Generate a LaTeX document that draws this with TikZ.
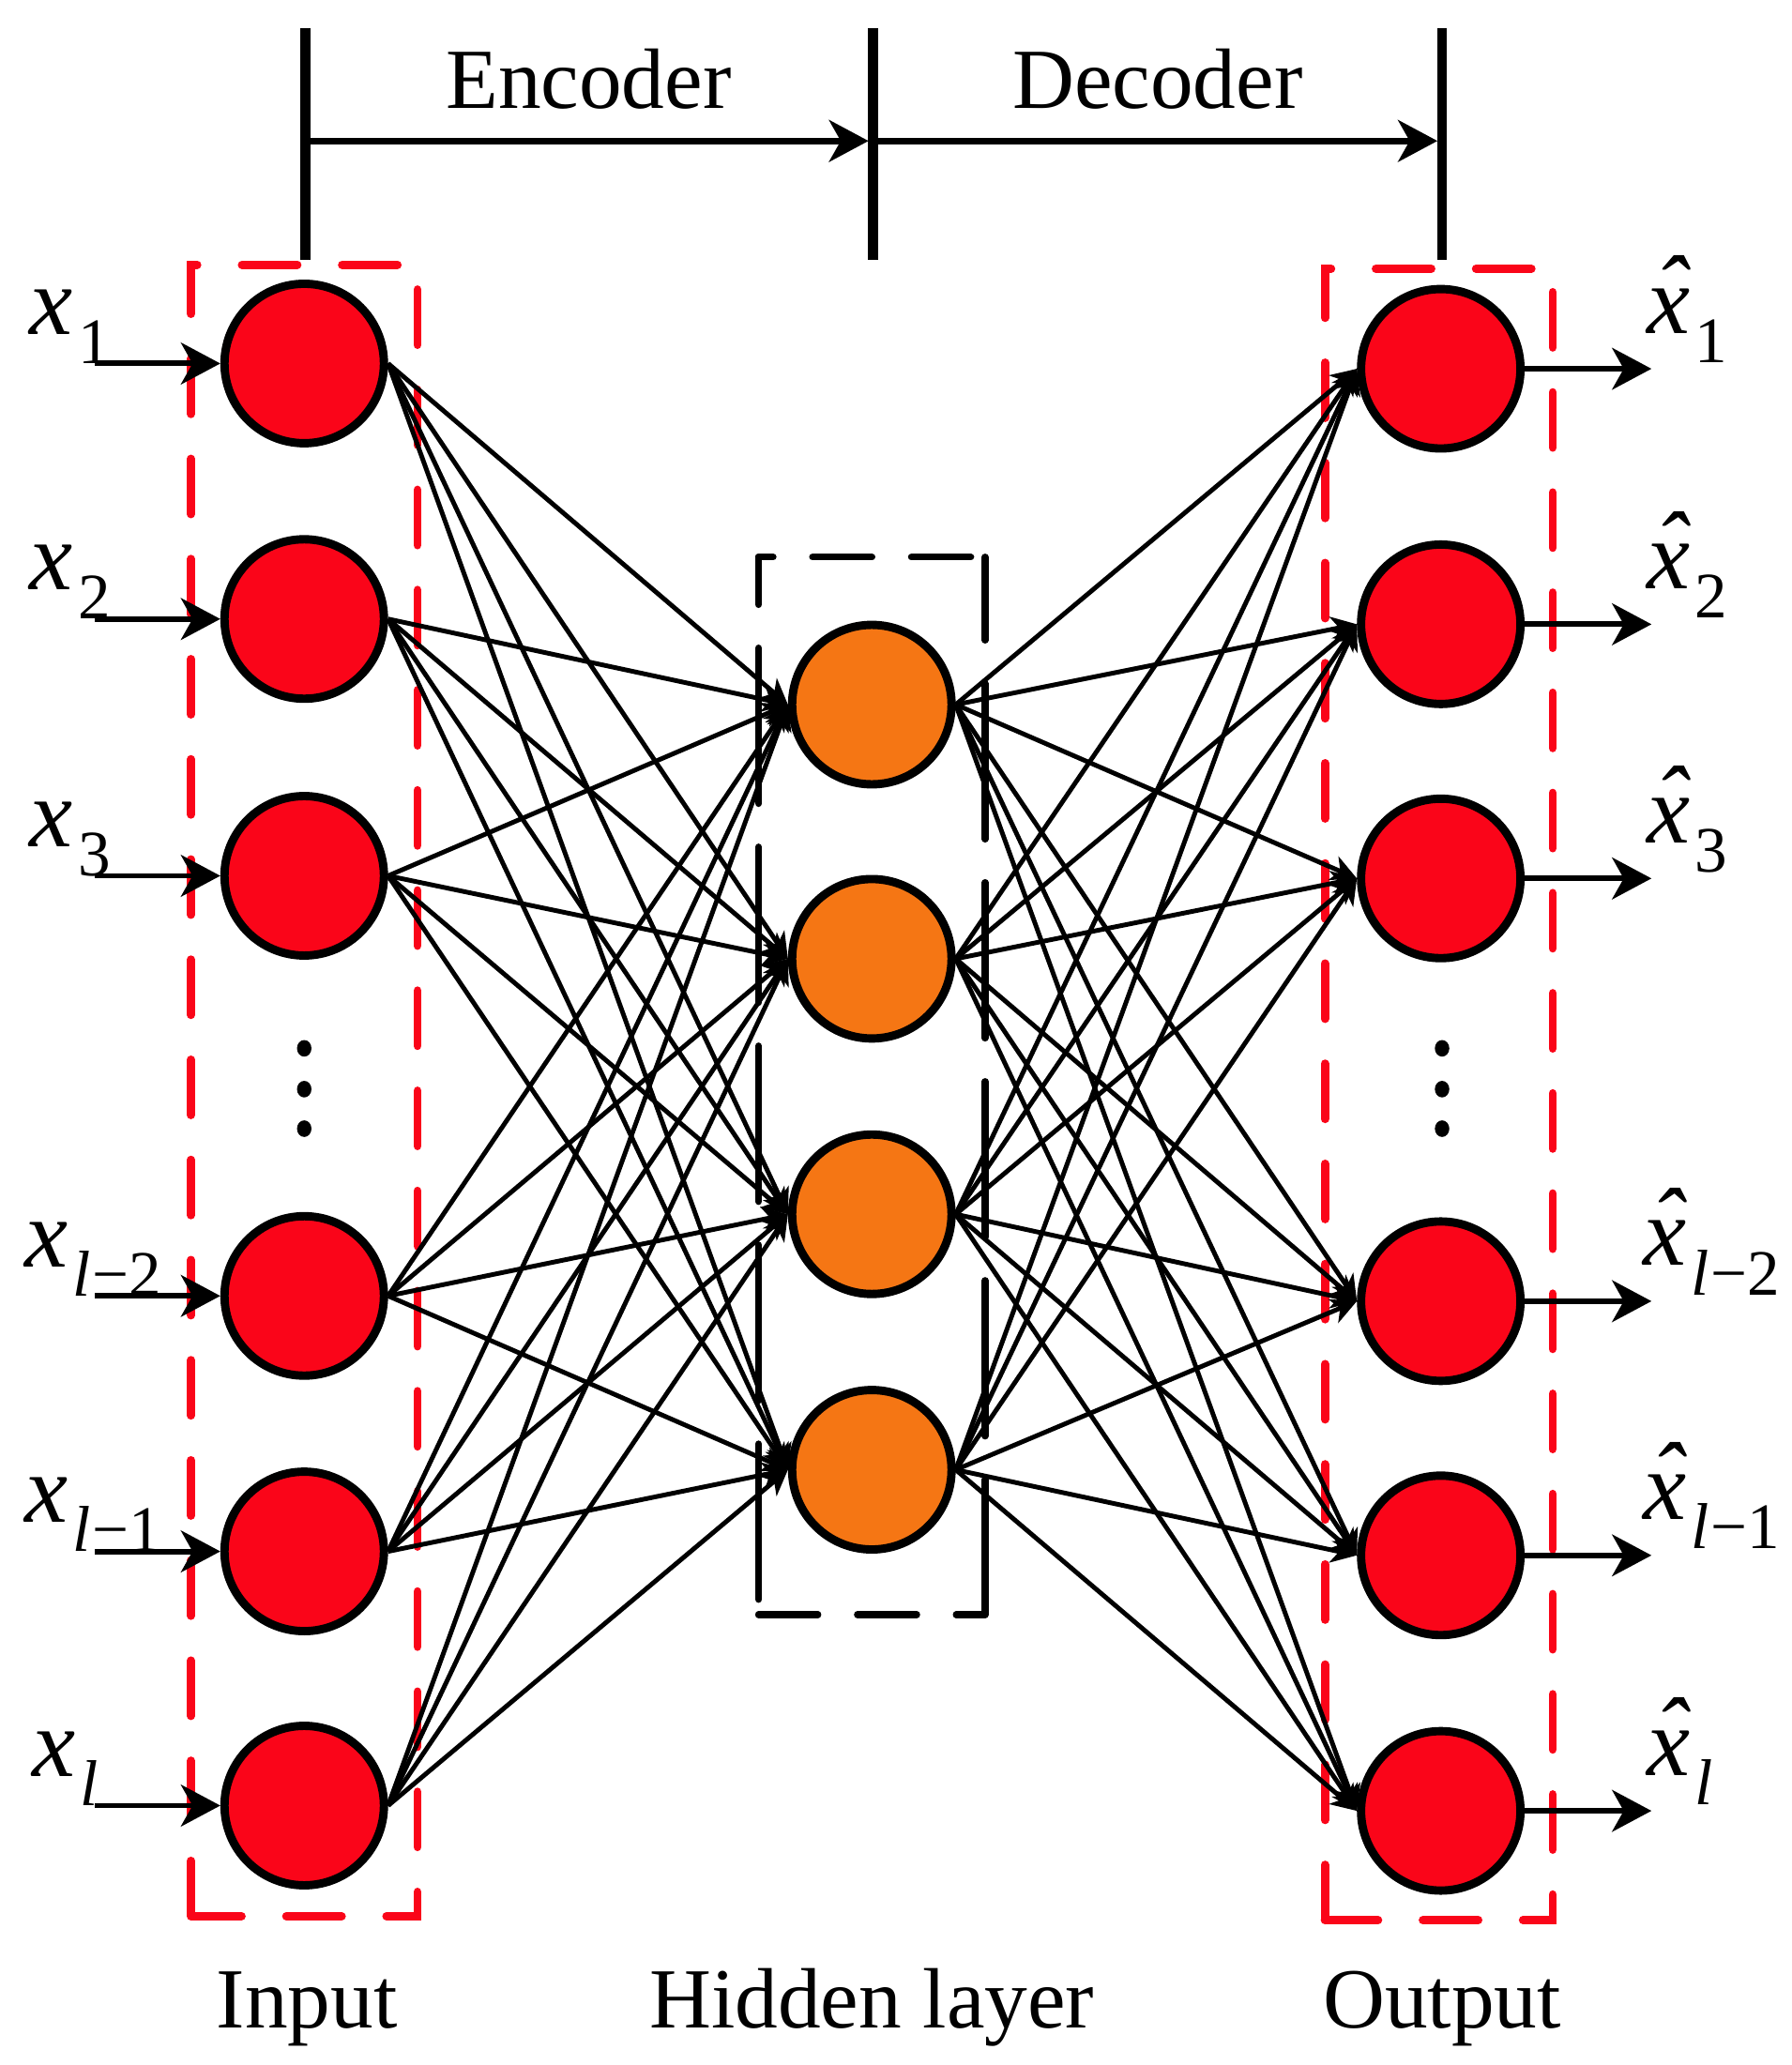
\documentclass[tikz,border=0pt]{standalone}
\usepackage{fontspec}
\setmainfont{Liberation Serif}
\usetikzlibrary{arrows.meta}
\definecolor{nred}{RGB}{250,5,25}
\definecolor{norange}{RGB}{245,118,20}
\newcommand{\xlab}[1]{{\fontsize{21}{25}\selectfont\textit{x}\kern0.05em\raisebox{-0.3em}{\fontsize{14}{16}\selectfont #1}}}
\newcommand{\xhat}[1]{{\fontsize{21}{25}\selectfont\textit{x}\llap{\textit{\raisebox{0.1em}{\char"02C6}}\kern0.03em}\kern0.05em\raisebox{-0.3em}{\fontsize{14}{16}\selectfont #1}}}
\newcommand{\lsub}[1]{\textit{l}\kern0.02em−#1}
\begin{document}
\begin{tikzpicture}[x=0.01cm,y=-0.01cm,
  inode/.style={circle, draw=black, line width=1.8pt, fill=nred, minimum size=1.21cm, inner sep=0pt},
  hnode/.style={circle, draw=black, line width=1.8pt, fill=norange, minimum size=1.21cm, inner sep=0pt},
  conn/.style={line width=1pt, -{Stealth[length=5.5pt,width=5.5pt,inset=1.6pt]}},
  ioarrow/.style={line width=1.2pt, -{Stealth[length=8.5pt,width=9pt,inset=2.5pt]}},
  toparrow/.style={line width=1.4pt, -{Stealth[length=8.5pt,width=9pt,inset=2.5pt]}, shorten >=1pt},
  tick/.style={line width=2.2pt},
  redbox/.style={draw=nred, line width=1.8pt, line cap=round, dash pattern=on 0.42cm off 0.34cm},
  blkh/.style={draw=black, line width=1.5pt, line cap=round, dash pattern=on 0.45cm off 0.30cm},
  blkv/.style={draw=black, line width=1.5pt, line cap=round, dash pattern=on 1.18cm off 0.33cm},
  bigtext/.style={font=\fontsize{18.5}{22}\selectfont, anchor=base, inner sep=0pt},
  lab/.style={anchor=base west, inner sep=0pt}
]
\useasboundingbox (0,0) rectangle (1360,1568);

% dashed boxes
\draw[redbox] (145,1455) -- (145,201) -- (317,201) -- (317,1455) -- cycle;
\draw[redbox] (1006,1458) -- (1006,204) -- (1179,204) -- (1179,1458) -- cycle;
\draw[blkh, dash phase=0.34cm] (576,423) -- (748,423);
\draw[blkh] (576,1226) -- (748,1226);
\draw[blkv, dash phase=0.82cm] (576,423) -- (576,1226);
\draw[blkv, dash phase=0.55cm] (748,423) -- (748,1226);

% nodes
\node[inode] (i1) at (231,276) {};
\node[inode] (i2) at (231,470) {};
\node[inode] (i3) at (231,665) {};
\node[inode] (i4) at (231,984) {};
\node[inode] (i5) at (231,1178) {};
\node[inode] (i6) at (231,1371) {};
\node[hnode] (h1) at (662,535) {};
\node[hnode] (h2) at (662,728) {};
\node[hnode] (h3) at (662,922) {};
\node[hnode] (h4) at (662,1116) {};
\node[inode] (o1) at (1094,280) {};
\node[inode] (o2) at (1094,474) {};
\node[inode] (o3) at (1094,667) {};
\node[inode] (o4) at (1094,988) {};
\node[inode] (o5) at (1094,1181) {};
\node[inode] (o6) at (1094,1375) {};

% dots
\foreach \yy in {796,827,857} {
  \fill (231,\yy) ellipse [x radius=0.055cm, y radius=0.063cm];
  \fill (1095,\yy) ellipse [x radius=0.055cm, y radius=0.063cm];
}

% connectors
\foreach \i in {1,...,6} \foreach \j in {1,...,4} \draw[conn] (i\i.east) -- (h\j.west);
\foreach \j in {1,...,4} \foreach \k in {1,...,6} \draw[conn] (h\j.east) -- (o\k.west);

% input / output arrows
\foreach \i/\yy in {1/276,2/470,3/665,4/984,5/1178,6/1371} {
  \coordinate (in\i) at (72,\yy);
  \draw[ioarrow] (in\i) -- (i\i.west);
}
\foreach \k/\yy in {1/280,2/474,3/667,4/988,5/1181,6/1375} {
  \coordinate (out\k) at (1254,\yy);
  \draw[ioarrow] (o\k.east) -- (out\k);
}

% input labels
\node[lab] (lx1) at (22,254) {\xlab{1}};
\node[lab] (lx2) at (22,448) {\xlab{2}};
\node[lab] (lx3) at (22,643) {\xlab{3}};
\node[lab] (lx4) at (18,962) {\xlab{\lsub{2}}};
\node[lab] (lx5) at (18,1156) {\xlab{\lsub{1}}};
\node[lab] (lx6) at (24,1349) {\xlab{\textit{l}}};

% output labels
\node[lab] (ly1) at (1250,253) {\xhat{1}};
\node[lab] (ly2) at (1250,447) {\xhat{2}};
\node[lab] (ly3) at (1250,640) {\xhat{3}};
\node[lab] (ly4) at (1247,961) {\xhat{\lsub{2}}};
\node[lab] (ly5) at (1247,1154) {\xhat{\lsub{1}}};
\node[lab] (ly6) at (1250,1348) {\xhat{\textit{l}}};

% top encoder/decoder bar
\coordinate (t1) at (232,21);  \coordinate (b1) at (232,197);
\coordinate (t2) at (663,21);  \coordinate (b2) at (663,197);
\coordinate (t3) at (1095,21); \coordinate (b3) at (1095,197);
\draw[tick] (t1) -- (b1);
\draw[tick] (t2) -- (b2);
\draw[tick] (t3) -- (b3);
\coordinate (m1) at (232,107);
\coordinate (m2) at (663,107);
\coordinate (m3) at (1095,107);
\draw[toparrow] (m1) -- (m2);
\draw[toparrow] (m2) -- (m3);
\node[bigtext] (enc) at (447,82) {Encoder};
\node[bigtext] (dec) at (879,82) {Decoder};

% bottom labels
\node[bigtext] (tin) at (233,1540) {Input};
\node[bigtext] (thid) at (662,1540) {Hidden layer};
\node[bigtext] (tout) at (1095,1540) {Output};
\end{tikzpicture}
\end{document}
